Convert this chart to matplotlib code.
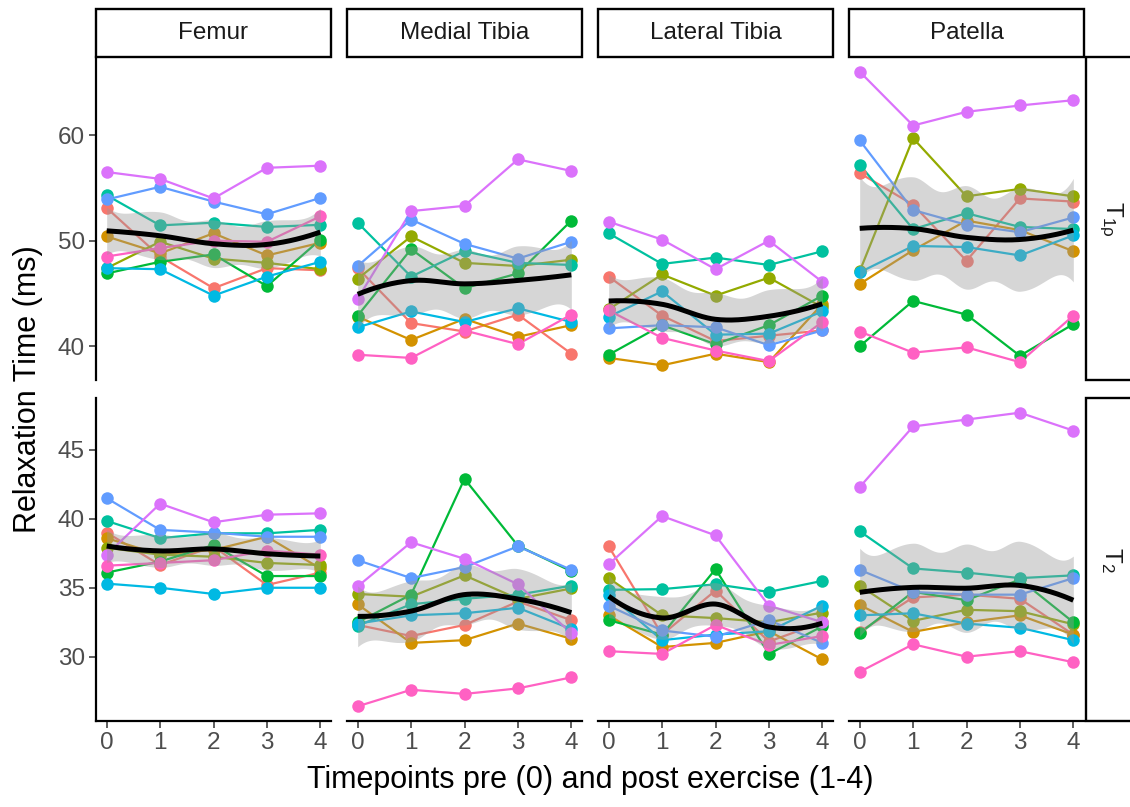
import numpy as np
import matplotlib
matplotlib.use("Agg")
import matplotlib.pyplot as plt
from matplotlib.patches import Rectangle
from matplotlib.ticker import MultipleLocator

plt.rcParams['font.family'] = ['Liberation Sans', 'DejaVu Sans']
plt.rcParams['mathtext.fontset'] = 'custom'
plt.rcParams['mathtext.rm'] = 'Liberation Sans'
plt.rcParams['mathtext.it'] = 'Liberation Sans:italic'

# ---------------- data ----------------
timepoints = [0, 1, 2, 3, 4]
regions = ["Femur", "Medial Tibia", "Lateral Tibia", "Patella"]
measures = ["T1rho", "T2"]
measure_labels = [r"$\mathregular{T_{1\rho}}$", r"$\mathregular{T_{2}}$"]
subject_colors = ["#F8766D", "#D39200", "#93AA00", "#00BA38", "#00C19F",
                  "#00B9E3", "#619CFF", "#DB72FB", "#FF61C3"]

# each list: 9 subjects (in colour order) x 5 timepoints
femur_t1rho = [
    [53.1, 48.5, 45.5, 47.4, 47.2],
    [50.4, 48.8, 50.7, 48.6, 49.8],
    [47.4, 49.9, 48.3, 47.9, 47.3],
    [46.9, 48.0, 48.7, 45.7, 50.1],
    [54.3, 51.45, 51.7, 51.3, 51.5],
    [47.4, 47.3, 44.8, 46.6, 48.0],
    [53.9, 55.1, 53.7, 52.5, 54.05],
    [56.5, 55.85, 54.0, 56.9, 57.1],
    [48.5, 49.3, 50.0, 49.9, 52.3],
]
medial_tibia_t1rho = [
    [47.4, 42.2, 41.4, 43.0, 39.3],
    [42.8, 40.6, 42.6, 40.9, 42.0],
    [46.4, 50.4, 47.9, 47.6, 48.2],
    [42.9, 49.2, 45.5, 46.9, 51.9],
    [51.7, 46.6, 49.0, 47.9, 47.7],
    [41.8, 43.3, 42.3, 43.6, 42.3],
    [47.6, 52.0, 49.7, 48.3, 49.9],
    [44.5, 52.8, 53.3, 57.7, 56.6],
    [39.2, 38.9, 41.5, 40.2, 43.0],
]
lateral_tibia_t1rho = [
    [46.6, 42.9, 40.5, 41.0, 41.5],
    [38.9, 38.2, 39.3, 38.5, 44.0],
    [43.5, 46.8, 44.8, 46.5, 43.7],
    [39.2, 42.0, 40.2, 42.0, 44.8],
    [50.7, 47.8, 48.4, 47.7, 49.0],
    [42.8, 45.2, 41.1, 41.2, 43.3],
    [41.7, 42.0, 41.8, 40.1, 41.5],
    [51.8, 50.1, 47.3, 50.0, 46.1],
    [43.4, 40.8, 39.6, 38.6, 42.3],
]
patella_t1rho = [
    [56.4, 53.4, 48.1, 54.0, 53.7],
    [45.9, 49.1, 51.9, 51.0, 49.0],
    [47.1, 59.7, 54.2, 54.9, 54.2],
    [40.0, 44.3, 43.0, 39.1, 42.1],
    [57.2, 51.1, 52.6, 51.3, 51.1],
    [47.0, 49.5, 49.4, 48.6, 50.5],
    [59.5, 52.9, 51.5, 50.8, 52.2],
    [66.0, 60.9, 62.2, 62.8, 63.3],
    [41.4, 39.4, 39.9, 38.5, 42.9],
]
femur_t2 = [
    [39.0, 36.65, 38.0, 35.2, 36.1],
    [38.6, 37.4, 37.75, 38.7, 36.4],
    [37.9, 37.4, 37.25, 36.8, 36.65],
    [36.1, 36.9, 38.1, 35.85, 35.85],
    [39.85, 38.6, 38.95, 38.95, 39.2],
    [35.3, 35.0, 34.55, 35.0, 35.0],
    [41.5, 39.2, 39.0, 38.7, 38.7],
    [37.4, 41.1, 39.75, 40.3, 40.4],
    [36.6, 36.8, 37.0, 37.7, 37.4],
]
medial_tibia_t2 = [
    [32.3, 31.5, 32.3, 34.0, 32.65],
    [33.8, 31.0, 31.2, 32.4, 31.3],
    [34.55, 34.35, 35.9, 34.2, 34.95],
    [32.5, 34.5, 42.9, 38.05, 36.2],
    [32.25, 33.8, 34.2, 34.5, 35.15],
    [32.4, 33.0, 33.15, 33.55, 32.0],
    [37.0, 35.7, 36.5, 38.0, 36.3],
    [35.1, 38.3, 37.1, 35.25, 31.7],
    [26.4, 27.6, 27.3, 27.7, 28.5],
]
lateral_tibia_t2 = [
    [38.0, 31.6, 34.8, 31.1, 32.5],
    [33.0, 30.7, 31.0, 31.85, 29.8],
    [35.7, 33.0, 32.8, 32.5, 33.2],
    [32.65, 31.6, 36.35, 30.2, 32.2],
    [34.85, 34.9, 35.25, 34.7, 35.5],
    [34.5, 31.2, 31.6, 31.85, 33.7],
    [33.7, 31.9, 31.45, 32.65, 31.0],
    [36.7, 40.2, 38.8, 33.7, 32.5],
    [30.4, 30.2, 32.3, 30.85, 31.5],
]
patella_t2 = [
    [31.8, 34.3, 34.5, 34.2, 31.6],
    [33.75, 31.8, 32.5, 33.0, 31.6],
    [35.15, 32.6, 33.4, 33.3, 32.35],
    [31.7, 34.7, 34.1, 35.6, 32.5],
    [39.1, 36.4, 36.1, 35.7, 35.9],
    [33.0, 33.15, 32.4, 32.1, 31.2],
    [36.3, 34.7, 34.5, 34.5, 35.7],
    [42.3, 46.7, 47.2, 47.7, 46.4],
    [28.9, 30.9, 30.0, 30.4, 29.6],
]

panel_data = [
    [femur_t1rho, medial_tibia_t1rho, lateral_tibia_t1rho, patella_t1rho],
    [femur_t2, medial_tibia_t2, lateral_tibia_t2, patella_t2],
]
x_title = "Timepoints pre (0) and post exercise (1-4)"
y_title = "Relaxation Time (ms)"


# ---------------- loess (span .75, degree 2) with vertex interpolation ----------------
def loess_smooth(x, y, grid, span=0.75):
    x = np.asarray(x, float)
    y = np.asarray(y, float)
    n = len(x)
    q = int(np.floor(n * span))
    verts = np.unique(x)

    def operators(x0):
        d = np.abs(x - x0)
        h = np.sort(d)[q - 1]
        u = np.clip(d / h, 0, 1)
        w = (1 - u ** 3) ** 3
        X = np.column_stack([np.ones(n), x - x0, (x - x0) ** 2])
        XtW = X.T * w
        M = np.linalg.pinv(XtW @ X) @ XtW
        return M[0], M[1]

    L = {}
    D = {}
    for v in verts:
        L[v], D[v] = operators(v)
    rows = []
    for g in grid:
        k = np.searchsorted(verts, g, side='right') - 1
        k = min(max(k, 0), len(verts) - 2)
        a, b = verts[k], verts[k + 1]
        hgt = b - a
        t = (g - a) / hgt
        h00 = 2 * t ** 3 - 3 * t ** 2 + 1
        h10 = t ** 3 - 2 * t ** 2 + t
        h01 = -2 * t ** 3 + 3 * t ** 2
        h11 = t ** 3 - t ** 2
        rows.append(h00 * L[a] + h10 * hgt * D[a] + h01 * L[b] + h11 * hgt * D[b])
    R = np.array(rows)
    fit = R @ y
    Ld = np.array([L[xi] for xi in x])
    resid = y - Ld @ y
    IL = np.eye(n) - Ld
    delta1 = np.trace(IL.T @ IL)
    sigma = np.sqrt(np.sum(resid ** 2) / delta1)
    se = sigma * np.sqrt(np.sum(R ** 2, axis=1))
    tq = 2.021
    return fit, fit - tq * se, fit + tq * se


# ---------------- layout ----------------
W, H = 1130, 807
fig = plt.figure(figsize=(W / 100, H / 100), dpi=100)


def fbox(l, t, r, b):
    return [l / W, 1 - b / H, (r - l) / W, (b - t) / H]


col_px = [(96, 331), (347, 582), (598, 833), (849, 1084)]
row_px = [(57, 380), (398, 721)]

tick_col = "#333333"
lab_col = "#4D4D4D"
fs_small = 17.5
fs_title = 22

for ri, (top, bot) in enumerate(row_px):
    allv = np.array(panel_data[ri]).ravel()
    lo, hi = allv.min(), allv.max()
    pad = 0.05 * (hi - lo)
    ylim = (lo - pad, hi + pad)
    for ci, (left, right) in enumerate(col_px):
        ax = fig.add_axes(fbox(left, top, right, bot))
        vals = panel_data[ri][ci]
        for si, series in enumerate(vals):
            ax.plot(timepoints, series, color=subject_colors[si], lw=1.6,
                    zorder=2 + si * 0.01, solid_capstyle='round')
        for si, series in enumerate(vals):
            ax.plot(timepoints, series, 'o', color=subject_colors[si], ms=9,
                    mew=0, zorder=3 + si * 0.01)
        xs = np.repeat(np.array(timepoints, float)[None, :], len(vals), axis=0).ravel()
        ys = np.array(vals, float).ravel()
        grid = np.linspace(0, 4, 161)
        fit, lo_b, hi_b = loess_smooth(xs, ys, grid)
        ax.fill_between(grid, lo_b, hi_b, color="#999999", alpha=0.4, lw=0, zorder=4)
        ax.plot(grid, fit, color='black', lw=3.6, zorder=5, solid_capstyle='butt')

        ax.set_xlim(-0.2, 4.2)
        ax.set_ylim(*ylim)
        for s in ['top', 'right', 'left', 'bottom']:
            ax.spines[s].set_visible(False)
        ax.set_facecolor('none')
        ax.patch.set_alpha(0)
        if ci == 0:
            ax.spines['left'].set_visible(True)
            ax.spines['left'].set_linewidth(1.6)
            ax.spines['left'].set_color('black')
            ax.yaxis.set_major_locator(MultipleLocator(10 if ri == 0 else 5))
            ax.tick_params(axis='y', length=5, width=1.1, color=tick_col,
                           labelsize=fs_small, labelcolor=lab_col, pad=3)
        else:
            ax.set_yticks([])
        if ri == 1:
            ax.spines['bottom'].set_visible(True)
            ax.spines['bottom'].set_linewidth(1.6)
            ax.spines['bottom'].set_color('black')
            ax.set_xticks(timepoints)
            ax.set_xticklabels([str(t) for t in timepoints])
            ax.tick_params(axis='x', length=5, width=1.1, color=tick_col,
                           labelsize=fs_small, labelcolor=lab_col, pad=3)
        else:
            ax.set_xticks([])

        # top strips
        if ri == 0:
            sax = fig.add_axes(fbox(left, 9, right, 57))
            sax.set_xlim(0, 1)
            sax.set_ylim(0, 1)
            sax.axis('off')
            sax.add_patch(Rectangle((0, 0), 1, 1, facecolor='white', edgecolor='black',
                                    lw=1.7, transform=sax.transAxes, clip_on=False))
            sax.text(0.5, 0.5, regions[ci], ha='center', va='center',
                     fontsize=fs_small, color='#1A1A1A')

    # right strips
    rax = fig.add_axes(fbox(1086, top, 1136, bot))
    rax.set_xlim(0, 1)
    rax.set_ylim(0, 1)
    rax.axis('off')
    rax.add_patch(Rectangle((0, 0), 1, 1, facecolor='white', edgecolor='black',
                            lw=1.7, transform=rax.transAxes, clip_on=False))
    rax.text(0.5, 0.5, measure_labels[ri], ha='center', va='center', rotation=270,
             fontsize=fs_small, color='#1A1A1A')

fig.text(590 / W, 1 - 780 / H, x_title, ha='center', va='center',
         fontsize=fs_title, color='black')
fig.text(28 / W, 1 - 389 / H, y_title, ha='center', va='center', rotation=90,
         fontsize=fs_title, color='black')

fig.savefig("out.png", dpi=100)
